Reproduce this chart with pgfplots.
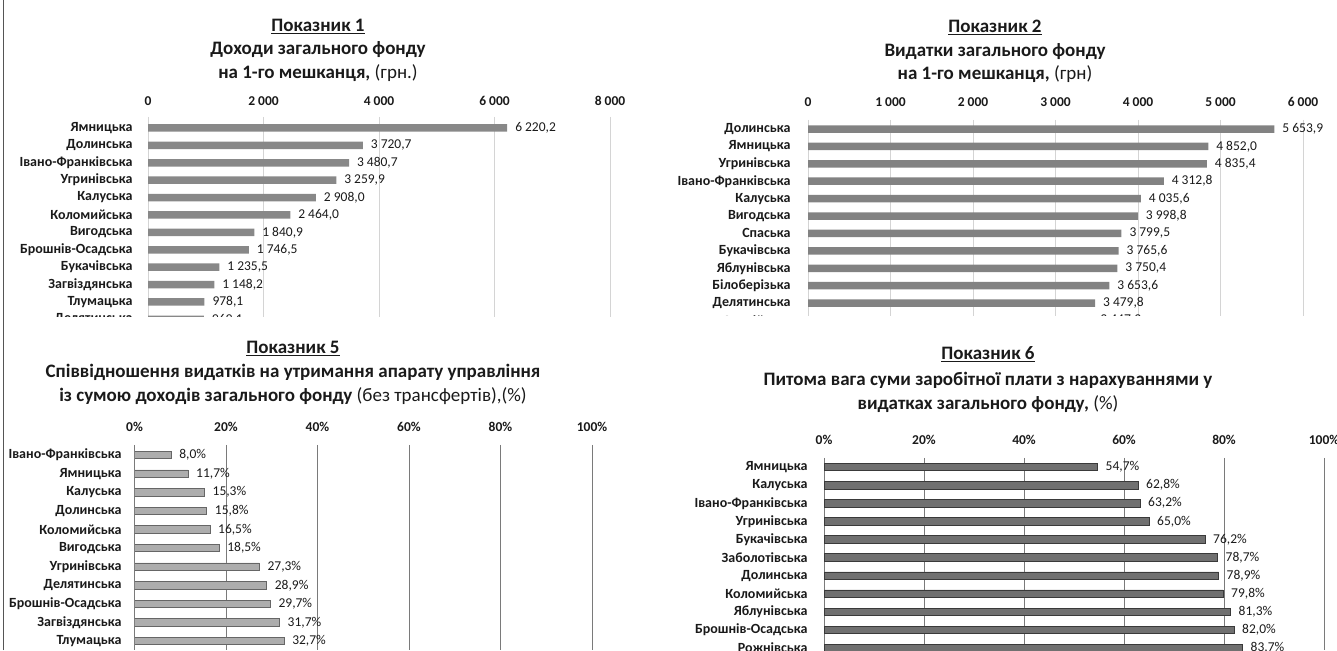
\documentclass[border=0pt]{standalone}
\usepackage{pgfplots}
\pgfplotsset{compat=1.18}
\usepackage{fontspec}
\setmainfont{Carlito}

\definecolor{txt}{HTML}{1A1A1A}
\definecolor{gridlt}{HTML}{D4D4D4}
\definecolor{griddk}{HTML}{7A7A7A}
\definecolor{barA}{HTML}{888888}
\definecolor{barB}{HTML}{828282}
\definecolor{barC}{HTML}{ADADAD}
\definecolor{barCe}{HTML}{666666}
\definecolor{barD}{HTML}{707070}
\definecolor{barDe}{HTML}{3A3A3A}
\definecolor{frame}{HTML}{555555}

\newcommand{\ttl}{\bfseries\fontsize{19}{23}\selectfont}

\pgfplotsset{
  panel/.style={
    scale only axis, anchor=north west,
    xbar, bar width=7.5pt, bar shift=0pt,
    y dir=reverse, enlargelimits=false,
    axis line style={draw=none},
    tick style={draw=none},
    xmin=0, xmajorgrids,
    xticklabel pos=upper,
    ytick={0,...,11},
    tick label style={font=\bfseries\fontsize{13.5}{15}\selectfont, text=txt},
    yticklabel style={font=\bfseries\fontsize{14}{15}\selectfont},
    /pgf/number format/use comma,
    /pgf/number format/1000 sep={\ },
    /pgf/number format/assume math mode=true,
    point meta=x,
    nodes near coords style={font=\fontsize{13.5}{15}\selectfont, text=txt, anchor=west, xshift=4.5pt},
  },
  grn/.style={
    nodes near coords={\pgfmathprintnumber[fixed,fixed zerofill,precision=1]{\pgfplotspointmeta}},
    major grid style={gridlt, line width=0.8pt},
  },
  pct/.style={
    xmax=100, xtick={0,20,...,100},
    xticklabel={\pgfmathprintnumber{\tick}\%},
    nodes near coords={\pgfmathprintnumber[fixed,fixed zerofill,precision=1]{\pgfplotspointmeta}\%},
    major grid style={griddk, line width=0.8pt},
  },
}

\begin{document}
\begin{tikzpicture}[x=1pt,y=1pt]
\useasboundingbox (0,0) rectangle (1337,650);

% titles
\node[font=\ttl, text=txt, anchor=base] at (318,618) {\underline{Показник 1}};
\node[font=\ttl, text=txt, anchor=base] at (318,595) {Доходи загального фонду};
\node[font=\ttl, text=txt, anchor=base] at (318,571) {на 1-го мешканця, {\mdseries(грн.)}};

\node[font=\ttl, text=txt, anchor=base] at (995,617) {\underline{Показник 2}};
\node[font=\ttl, text=txt, anchor=base] at (995,593) {Видатки загального фонду};
\node[font=\ttl, text=txt, anchor=base] at (995,570) {на 1-го мешканця, {\mdseries(грн)}};

\node[font=\ttl, text=txt, anchor=base] at (293,296) {\underline{Показник 5}};
\node[font=\ttl, text=txt, anchor=base] at (293,272) {Співвідношення видатків на утримання апарату управління};
\node[font=\ttl, text=txt, anchor=base] at (293,248) {із сумою доходів загального фонду {\mdseries(без трансфертів),(\%)}};

\node[font=\ttl, text=txt, anchor=base] at (988,290) {\underline{Показник 6}};
\node[font=\ttl, text=txt, anchor=base] at (988,264) {Питома вага суми заробітної плати з нарахуваннями у};
\node[font=\ttl, text=txt, anchor=base] at (988,240) {видатках загального фонду, {\mdseries(\%)}};

% Показник 1
\begin{scope}
\clip (0,333) rectangle (668,650);
\begin{axis}[panel, grn,
  at={(148pt,533pt)}, width=462pt, height=212.8pt,
  xmax=8000, xtick={0,2000,...,8000},
  ymin=-0.63, ymax=11.6,
  xticklabel style={yshift=7.7pt},
  yticklabel style={xshift=-7.7pt},
  yticklabels={Ямницька, Долинська, Івано-Франківська, Угринівська, Калуська, Коломийська,
    Вигодська, Брошнів-Осадська, Букачівська, Загвіздянська, Тлумацька, Делятинська},
]
\addplot[fill=barA, draw=none] coordinates {
  (6220.2,0) (3720.7,1) (3480.7,2) (3259.9,3) (2908.0,4) (2464.0,5)
  (1840.9,6) (1746.5,7) (1235.5,8) (1148.2,9) (978.1,10) (969.1,11)};
\end{axis}
\end{scope}

% Показник 2
\begin{scope}
\clip (668,334) rectangle (1337,650);
\begin{axis}[panel, grn,
  at={(808pt,530pt)}, width=495pt, height=210.9pt,
  xmax=6000, xtick={0,1000,...,6000},
  ymin=-0.52, ymax=11.6,
  xticklabel style={yshift=9.7pt},
  yticklabel style={xshift=-9.7pt},
  yticklabels={Долинська, Ямницька, Угринівська, Івано-Франківська, Калуська, Вигодська,
    Спаська, Букачівська, Яблунівська, Білоберізька, Делятинська, Отинійська},
]
\addplot[fill=barB, draw=none] coordinates {
  (5653.9,0) (4852.0,1) (4835.4,2) (4312.8,3) (4035.6,4) (3998.8,5)
  (3799.5,6) (3765.6,7) (3750.4,8) (3653.6,9) (3479.8,10) (3447.3,11)};
\end{axis}
\end{scope}

% Показник 5
\begin{scope}
\clip (0,0) rectangle (668,333);
\begin{axis}[panel, pct,
  at={(134.5pt,205pt)}, width=457.5pt, height=205pt,
  ymin=-0.54, ymax=10.48,
  xticklabel style={yshift=9.7pt},
  yticklabel style={xshift=-5.2pt},
  yticklabels={Івано-Франківська, Ямницька, Калуська, Долинська, Коломийська, Вигодська,
    Угринівська, Делятинська, Брошнів-Осадська, Загвіздянська, Тлумацька},
]
\addplot[fill=barC, draw=barCe, line width=0.7pt] coordinates {
  (8.0,0) (11.7,1) (15.3,2) (15.8,3) (16.5,4) (18.5,5)
  (27.3,6) (28.9,7) (29.7,8) (31.7,9) (32.7,10)};
\end{axis}
\end{scope}

% Показник 6
\begin{scope}
\clip (668,0) rectangle (1337,334);
\begin{axis}[panel, pct,
  at={(824pt,192pt)}, width=500pt, height=192pt,
  ymin=-0.5, ymax=10.11,
  xticklabel style={yshift=9.7pt},
  yticklabel style={xshift=-8.7pt},
  yticklabels={Ямницька, Калуська, Івано-Франківська, Угринівська, Букачівська, Заболотівська,
    Долинська, Коломийська, Яблунівська, Брошнів-Осадська, Рожнівська},
]
\addplot[fill=barD, draw=barDe, line width=0.7pt] coordinates {
  (54.7,0) (62.8,1) (63.2,2) (65.0,3) (76.2,4) (78.7,5)
  (78.9,6) (79.8,7) (81.3,8) (82.0,9) (83.7,10)};
\end{axis}
\end{scope}

\draw[frame, line width=1.6pt] (3.5,0) -- (3.5,650);
\end{tikzpicture}
\end{document}
